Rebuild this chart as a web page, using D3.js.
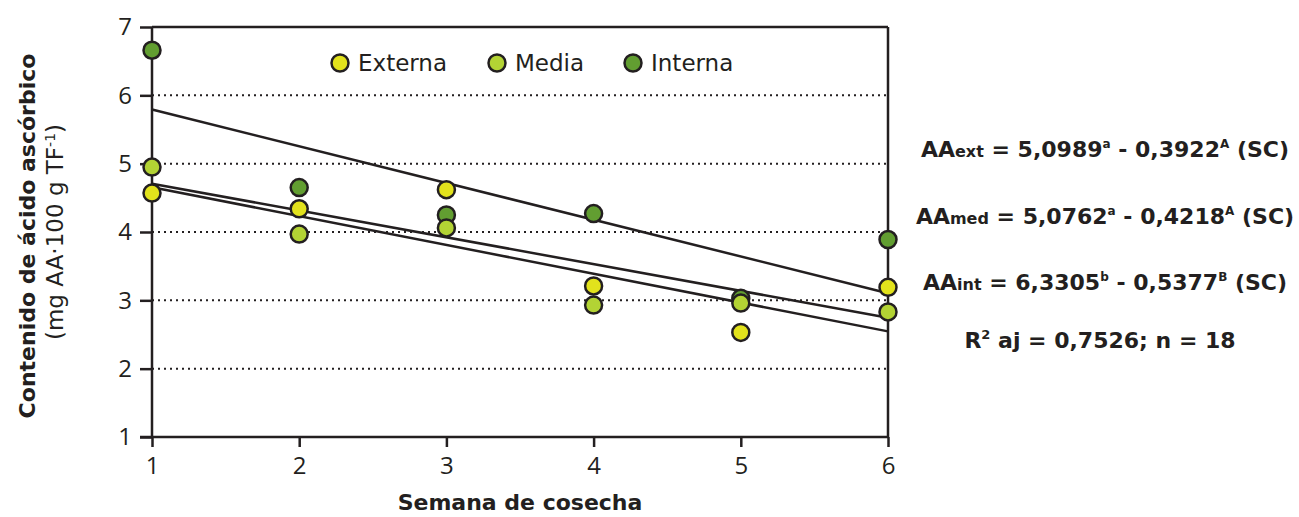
<!DOCTYPE html>
<html>
<head>
<meta charset="utf-8">
<script src="https://cdn.jsdelivr.net/npm/d3@7"></script>
<style>
  body { margin: 0; background: #fff; }
  text { font-family: "DejaVu Sans", sans-serif; fill: #231f20; }
</style>
</head>
<body>
<script>
var wW = 1299;
var wH = 517;

// weeks and measured values (mg AA per 100 g)
var weeks = [1, 2, 3, 4, 5, 6];
var externa = [4.57, 4.34, 4.62, 3.21, 2.53, 3.19];
var media = [4.95, 3.97, 4.06, 2.93, 2.96, 2.83];
var interna = [6.66, 4.65, 4.25, 4.27, 3.03, 3.89];

// regression coefficients
var seriesNames = ["Interna", "Media", "Externa"];
var intercepts = [6.3305, 5.0762, 5.0989];
var slopes = [-0.5377, -0.4218, -0.3922];

var yTicks = [1, 2, 3, 4, 5, 6, 7];
var gridTicks = [2, 3, 4, 5, 6];

var colors = { Externa: "#e2e21c", Media: "#b3d334", Interna: "#629e31" };
var ink = "#231f20";

var svg = d3.select("body").append("svg")
  .attr("width", wW)
  .attr("height", wH);

var x = d3.scaleLinear().domain([1, 6]).range([152, 888]);
var y = d3.scaleLinear().domain([1, 7]).range([437, 27]);

// dotted gridlines
svg.append("g").selectAll("line")
  .data(gridTicks)
  .enter().append("line")
  .attr("x1", x(1)).attr("x2", x(6))
  .attr("y1", function(d) { return y(d); })
  .attr("y2", function(d) { return y(d); })
  .attr("stroke", ink)
  .attr("stroke-width", 2)
  .attr("stroke-dasharray", "2,4");

// frame: top and right border
svg.append("line")
  .attr("x1", x(1)).attr("x2", x(6))
  .attr("y1", y(7)).attr("y2", y(7))
  .attr("stroke", ink).attr("stroke-width", 2.5);
svg.append("line")
  .attr("x1", x(6)).attr("x2", x(6))
  .attr("y1", y(7)).attr("y2", y(1))
  .attr("stroke", ink).attr("stroke-width", 2.5);

// axes
var yAxis = d3.axisLeft(y).tickValues(yTicks).tickSize(12).tickPadding(8).tickFormat(d3.format("d"));
var xAxis = d3.axisBottom(x).tickValues(weeks).tickSize(10).tickPadding(10).tickFormat(d3.format("d"));

var gy = svg.append("g").attr("transform", "translate(" + x(1) + ",0)").call(yAxis);
var gx = svg.append("g").attr("transform", "translate(0," + y(1) + ")").call(xAxis);

[gy, gx].forEach(function(g) {
  g.select(".domain").attr("stroke", ink).attr("stroke-width", 2.5);
  g.selectAll(".tick line").attr("stroke", ink).attr("stroke-width", 2.5);
  g.selectAll(".tick text")
    .attr("fill", ink)
    .style("font-family", "'Open Sans', sans-serif")
    .style("font-size", "24px");
});
gy.select(".domain").attr("d", "M0," + y(7) + "V" + y(1));
gx.select(".domain").attr("d", "M" + (x(1) - 12) + ",0H" + x(6));

// regression lines
svg.append("g").selectAll("line")
  .data(seriesNames)
  .enter().append("line")
  .attr("x1", x(1)).attr("x2", x(6))
  .attr("y1", function(d, i) { return y(intercepts[i] + slopes[i] * 1); })
  .attr("y2", function(d, i) { return y(intercepts[i] + slopes[i] * 6); })
  .attr("stroke", ink)
  .attr("stroke-width", 2.5);

// points
var series = [
  { name: "Interna", values: interna },
  { name: "Media", values: media },
  { name: "Externa", values: externa }
];

series.forEach(function(s) {
  svg.append("g").selectAll("circle")
    .data(s.values)
    .enter().append("circle")
    .attr("cx", function(d, i) { return x(weeks[i]); })
    .attr("cy", function(d) { return y(d); })
    .attr("r", 8.5)
    .attr("fill", colors[s.name])
    .attr("stroke", ink)
    .attr("stroke-width", 2.5);
});

// legend
var legendItems = ["Externa", "Media", "Interna"];
var legendX = [340, 497, 633];
legendItems.forEach(function(name, i) {
  svg.append("circle")
    .attr("cx", legendX[i]).attr("cy", 63)
    .attr("r", 8.5)
    .attr("fill", colors[name])
    .attr("stroke", ink)
    .attr("stroke-width", 2.5);
  svg.append("text")
    .attr("x", legendX[i] + 18).attr("y", 71)
    .style("font-size", "23px")
    .text(name);
});

// axis titles
svg.append("text")
  .attr("transform", "translate(35,236) rotate(-90)")
  .attr("text-anchor", "middle")
  .style("font-size", "22px")
  .style("font-weight", "bold")
  .text("Contenido de ácido ascórbico");

var sub = svg.append("text")
  .attr("transform", "translate(63,232) rotate(-90)")
  .attr("text-anchor", "middle")
  .style("font-size", "23px");
sub.append("tspan").text("(mg AA·100 g TF");
sub.append("tspan").attr("dy", -8).style("font-size", "14px").text("-1");
sub.append("tspan").attr("dy", 8).text(")");

svg.append("text")
  .attr("x", 520).attr("y", 510)
  .attr("text-anchor", "middle")
  .style("font-size", "22px")
  .style("font-weight", "bold")
  .text("Semana de cosecha");

// equations
var eqs = [
  { sub: "ext", a: "5,0989", sa: "a", b: "0,3922", sb: "A" },
  { sub: "med", a: "5,0762", sa: "a", b: "0,4218", sb: "A" },
  { sub: "int", a: "6,3305", sa: "b", b: "0,5377", sb: "B" }
];
var eqY = [157, 224, 290];

eqs.forEach(function(e, i) {
  var t = svg.append("text")
    .attr("x", 1105).attr("y", eqY[i])
    .attr("text-anchor", "middle")
    .style("font-size", "22px")
    .style("font-weight", "bold");
  t.append("tspan").text("AA");
  t.append("tspan").style("font-size", "16px").text(e.sub);
  t.append("tspan").text(" = " + e.a);
  t.append("tspan").attr("dy", -9).style("font-size", "12px").text(e.sa);
  t.append("tspan").attr("dy", 9).text(" - " + e.b);
  t.append("tspan").attr("dy", -9).style("font-size", "12px").text(e.sb);
  t.append("tspan").attr("dy", 9).text(" (SC)");
});

var r2 = svg.append("text")
  .attr("x", 1100).attr("y", 348)
  .attr("text-anchor", "middle")
  .style("font-size", "22px")
  .style("font-weight", "bold");
r2.append("tspan").text("R");
r2.append("tspan").attr("dy", -9).style("font-size", "13px").text("2");
r2.append("tspan").attr("dy", 9).text(" aj = 0,7526; n = 18");
</script>
</body>
</html>
